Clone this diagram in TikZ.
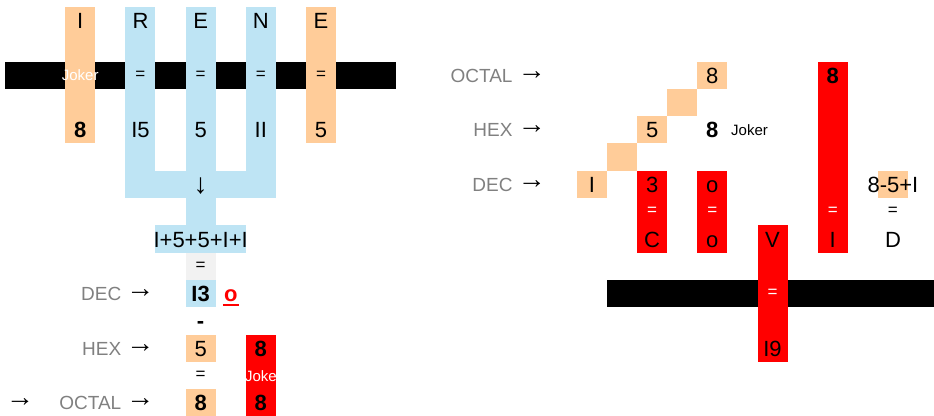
\documentclass[tikz,border=0pt]{standalone}
\usepackage{fontspec}
\setmainfont{Liberation Sans}
\usepackage{xcolor}
\usetikzlibrary{positioning}
\definecolor{cellorange}{RGB}{255,204,153}
\definecolor{cellblue}{RGB}{190,228,244}
\definecolor{cellgray}{RGB}{242,242,242}
\definecolor{labelgray}{RGB}{128,128,128}
\newcommand{\bigfont}{\fontsize{22}{24}\selectfont}

\begin{document}
\begin{tikzpicture}[
    x=30.1pt,y=-27.3pt,
    orangecell/.style={fill=cellorange},
    bluecell/.style={fill=cellblue},
    redcell/.style={fill=red},
    blackbar/.style={fill=black},
    big/.style={font=\bigfont,text height=16pt,text depth=0pt,inner sep=0pt},
    bigbold/.style={big,font=\bigfont\bfseries},
    eqsign/.style={font=\fontsize{17}{18}\selectfont,inner sep=0pt},
    baselabel/.style={font=\fontsize{19}{20}\selectfont,text=labelgray,
      text height=13.6pt,text depth=0pt,inner sep=0pt,anchor=east},
    arrowsign/.style={font=\fontsize{28}{30}\selectfont,inner sep=0pt},
    jokerword/.style={font=\fontsize{15}{16}\selectfont,text height=11pt,text depth=0pt,inner sep=0pt}
  ]
    \useasboundingbox (-0.166,-0.256) rectangle (30.864,14.982);

    % left: IRENE
    \fill[blackbar] (0,2) rectangle (13,3);
    \fill[orangecell] (2,0) rectangle (3,5);
    \fill[bluecell] (4,0) rectangle (5,7);
    \fill[bluecell] (6,0) rectangle (7,8);
    \fill[bluecell] (8,0) rectangle (9,7);
    \fill[bluecell] (4,6) rectangle (9,7);
    \fill[orangecell] (10,0) rectangle (11,5);
    \fill[bluecell] (5,8) rectangle (8,9);
    \fill[cellgray] (6,9) rectangle (7,10);
    \fill[bluecell] (6,10) rectangle (7,11);
    \fill[orangecell] (6,12) rectangle (7,13);
    \fill[orangecell] (6,14) rectangle (7,15);
    \fill[redcell] (8,12) rectangle (9,15);

    \node[big] (nameI) at (2.5,0.5) {I};
    \node[big] (nameR) at (4.5,0.5) {R};
    \node[big] (nameE) at (6.5,0.5) {E};
    \node[big] (nameN) at (8.5,0.5) {N};
    \node[big] (nameEE) at (10.5,0.5) {E};
    \node[jokerword,text=white] (jokerI) at (2.5,2.5) {Joker};
    \node[eqsign] (eqR) at (4.5,2.5) {=};
    \node[eqsign] (eqE) at (6.5,2.5) {=};
    \node[eqsign] (eqN) at (8.5,2.5) {=};
    \node[eqsign] (eqEE) at (10.5,2.5) {=};
    \node[bigbold] (valI) at (2.5,4.5) {8};
    \node[big] (valR) at (4.5,4.5) {I5};
    \node[big] (valE) at (6.5,4.5) {5};
    \node[big] (valN) at (8.5,4.5) {II};
    \node[big] (valEE) at (10.5,4.5) {5};
    \node[arrowsign] (down) at (6.5,6.55) {↓};
    \node[big] (sum) at (6.5,8.5) {I+5+5+I+I};
    \node[eqsign] (eqsum) at (6.5,9.5) {=};
    \node[bigbold] (dec13) at (6.5,10.5) {I3};
    \node[bigbold,text=red,inner xsep=1pt] (redo) at (7.5,10.5) {o};
    \draw[red,line width=2pt] ([yshift=-3pt]redo.base west) -- ([yshift=-3pt]redo.base east);
    \node[bigbold] (minus) at (6.5,11.5) {-};
    \node[big] (hex5) at (6.5,12.5) {5};
    \node[eqsign] (eqhex) at (6.5,13.5) {=};
    \node[bigbold] (oct8) at (6.5,14.5) {8};
    \node[bigbold] (red8a) at (8.5,12.5) {8};
    \node[jokerword,text=white] (jokeRed) at (8.5,13.5) {Joke};
    \node[bigbold] (red8b) at (8.5,14.5) {8};

    \node[arrowsign] (decArrL) at (4.5,10.5) {→};
    \node[baselabel,left=19pt of decArrL.center] (decL) {DEC};
    \node[arrowsign] (hexArrL) at (4.5,12.5) {→};
    \node[baselabel,left=19pt of hexArrL.center] (hexL) {HEX};
    \node[arrowsign] (octArrL) at (4.5,14.5) {→};
    \node[baselabel,left=19pt of octArrL.center] (octL) {OCTAL};
    \node[arrowsign] (leadArr) at (0.5,14.5) {→};

    % right: CoVID
    \fill[blackbar] (20,10) rectangle (31,11);
    \fill[orangecell] (23,2) rectangle (24,3);
    \fill[orangecell] (22,3) rectangle (23,4);
    \fill[orangecell] (21,4) rectangle (22,5);
    \fill[orangecell] (20,5) rectangle (21,6);
    \fill[orangecell] (19,6) rectangle (20,7);
    \fill[redcell] (21,6) rectangle (22,9);
    \fill[redcell] (23,6) rectangle (24,9);
    \fill[redcell] (25,8) rectangle (26,13);
    \fill[redcell] (27,2) rectangle (28,9);
    \fill[orangecell] (29,6) rectangle (30,7);

    \node[arrowsign] (octArrR) at (17.5,2.5) {→};
    \node[baselabel,left=19pt of octArrR.center] (octR) {OCTAL};
    \node[arrowsign] (hexArrR) at (17.5,4.5) {→};
    \node[baselabel,left=19pt of hexArrR.center] (hexR) {HEX};
    \node[arrowsign] (decArrR) at (17.5,6.5) {→};
    \node[baselabel,left=19pt of decArrR.center] (decR) {DEC};

    \node[big] (oct8R) at (23.5,2.5) {8};
    \node[big] (hex5R) at (21.5,4.5) {5};
    \node[big] (decIR) at (19.5,6.5) {I};
    \node[bigbold] (hex8R) at (23.5,4.5) {8};
    \node[jokerword,anchor=west] (jokerR) at (24.12,4.5) {Joker};
    \node[big] (dec3) at (21.5,6.5) {3};
    \node[eqsign,text=white] (eq3) at (21.5,7.5) {=};
    \node[big] (letC) at (21.5,8.5) {C};
    \node[big] (deco) at (23.5,6.5) {o};
    \node[eqsign,text=white] (eqo) at (23.5,7.5) {=};
    \node[big] (leto) at (23.5,8.5) {o};
    \node[big] (letV) at (25.5,8.5) {V};
    \node[eqsign,text=white] (eqV) at (25.5,10.5) {=};
    \node[big] (val19) at (25.5,12.5) {I9};
    \node[bigbold] (tall8) at (27.5,2.5) {8};
    \node[eqsign,text=white] (eqtall) at (27.5,7.5) {=};
    \node[big] (letI) at (27.5,8.5) {I};
    \node[big] (calc) at (29.5,6.5) {8-5+I};
    \node[eqsign] (eqD) at (29.5,7.5) {=};
    \node[big] (letD) at (29.5,8.5) {D};
\end{tikzpicture}
\end{document}
